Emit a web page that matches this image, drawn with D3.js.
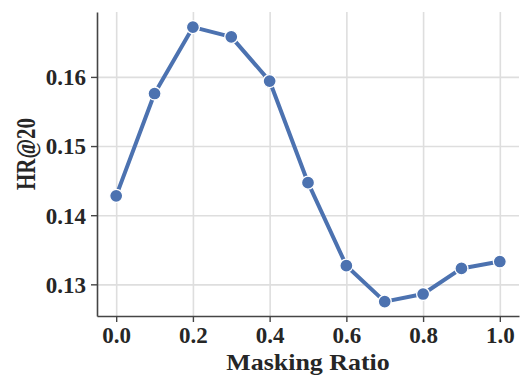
<!DOCTYPE html>
<html>
<head>
<meta charset="utf-8">
<script src="https://cdn.jsdelivr.net/npm/d3@7"></script>
<style>
  body { margin: 0; background: #fff; }
  svg { display: block; }
</style>
</head>
<body>
<div id="chart"></div>
<script>
// DATA ################################################
const ratios = [0.0, 0.1, 0.2, 0.3, 0.4, 0.5, 0.6, 0.7, 0.8, 0.9, 1.0];
const hr20 = [0.1428, 0.1576, 0.1672, 0.1658, 0.1594, 0.1447, 0.1327, 0.1275, 0.1286, 0.1323, 0.1333];
const xTicks = [0.0, 0.2, 0.4, 0.6, 0.8, 1.0];
const yTicks = [0.13, 0.14, 0.15, 0.16];

// CONSTANTS ###########################################
const width = 520;
const height = 375;
const plotLeft = 97, plotRight = 519, plotTop = 12, plotBottom = 316;
const blue = "#4C72B0";
const axisColor = "#454545";
const gridColor = "#dedede";
const textColor = "#262626";
const font = "'Liberation Serif', 'Times New Roman', serif";

// SCALES ==============================================
const x = d3.scaleLinear().domain([-0.05, 1.05]).range([plotLeft, plotRight]);
const y = d3.scaleLinear().domain([0.12542, 0.16939]).range([plotBottom, plotTop]);

const svg = d3.select("#chart")
  .append("svg")
  .attr("width", width)
  .attr("height", height);

// GRID ------------------------------------------------
svg.append("g")
  .attr("transform", `translate(0,${plotBottom})`)
  .call(d3.axisBottom(x).tickValues(xTicks).tickSize(-(plotBottom - plotTop)).tickFormat(""))
  .call(g => g.select(".domain").remove())
  .call(g => g.selectAll("line").attr("stroke", gridColor).attr("stroke-width", 1.6));

svg.append("g")
  .attr("transform", `translate(${plotLeft},0)`)
  .call(d3.axisLeft(y).tickValues(yTicks).tickSize(-(plotRight - plotLeft)).tickFormat(""))
  .call(g => g.select(".domain").remove())
  .call(g => g.selectAll("line").attr("stroke", gridColor).attr("stroke-width", 1.6));

// AXES ------------------------------------------------
const xAxis = svg.append("g")
  .attr("transform", `translate(0,${plotBottom})`)
  .call(d3.axisBottom(x).tickValues(xTicks).tickSize(6).tickSizeOuter(0).tickFormat(d3.format(".1f")));

const yAxis = svg.append("g")
  .attr("transform", `translate(${plotLeft},0)`)
  .call(d3.axisLeft(y).tickValues(yTicks).tickSize(6).tickSizeOuter(0).tickFormat(d3.format(".2f")));

[xAxis, yAxis].forEach(g => {
  g.select(".domain").attr("stroke", axisColor).attr("stroke-width", 1.6);
  g.selectAll(".tick line").attr("stroke", axisColor).attr("stroke-width", 1.4);
  g.selectAll("text")
    .style("font-family", font)
    .style("font-weight", "bold")
    .style("font-size", "23px")
    .attr("fill", textColor);
});

xAxis.selectAll("text").attr("y", 26.5).attr("dy", 0);
yAxis.selectAll("text").attr("x", -11).attr("dy", "0.34em");

// AXIS TITLES -----------------------------------------
svg.append("text")
  .attr("transform", `translate(${(plotLeft + plotRight) / 2},369.5) scale(1.08,1)`)
  .attr("text-anchor", "middle")
  .style("font-family", font)
  .style("font-weight", "bold")
  .style("font-size", "24px")
  .attr("fill", textColor)
  .text("Masking Ratio");

svg.append("text")
  .attr("transform", "translate(35,154) scale(1.27,1) rotate(-90)")
  .attr("text-anchor", "middle")
  .style("font-family", font)
  .style("font-weight", "bold")
  .style("font-size", "21px")
  .attr("fill", textColor)
  .text("HR@20");

// LINE + MARKERS ======================================
const points = ratios.map((r, i) => ({ r, v: hr20[i] }));

svg.append("path")
  .datum(points)
  .attr("fill", "none")
  .attr("stroke", blue)
  .attr("stroke-width", 4)
  .attr("stroke-linejoin", "round")
  .attr("d", d3.line().x(d => x(d.r)).y(d => y(d.v)));

svg.selectAll("circle.dot")
  .data(points)
  .join("circle")
    .attr("class", "dot")
    .attr("cx", d => x(d.r))
    .attr("cy", d => y(d.v))
    .attr("r", 6.5)
    .attr("fill", blue)
    .attr("stroke", "#fff")
    .attr("stroke-width", 1.3);
</script>
</body>
</html>
